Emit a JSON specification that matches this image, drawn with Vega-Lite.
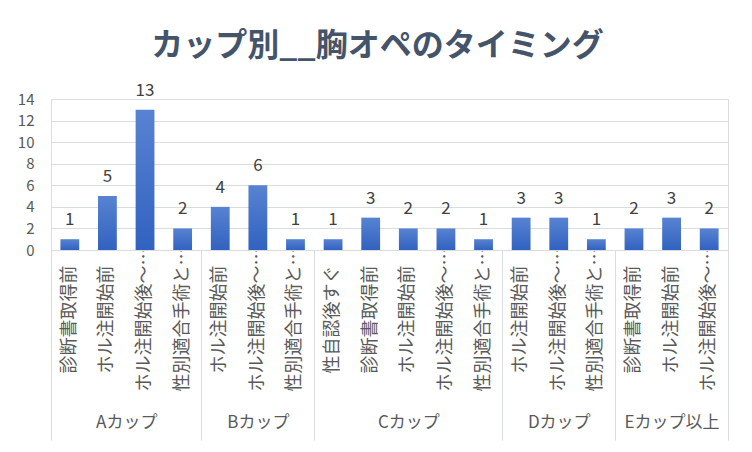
{
  "$schema": "https://vega.github.io/schema/vega-lite/v6.json",
  "width": 677,
  "height": 151,
  "autosize": {"type": "none"},
  "padding": {"left": 51, "top": 99, "right": 24, "bottom": 202},
  "background": "#ffffff",
  "title": {
    "text": "カップ別__胸オペのタイミング",
    "font": "Noto Sans CJK JP",
    "fontSize": 32,
    "fontWeight": "bold",
    "color": "#44546a",
    "anchor": "middle",
    "dx": -12,
    "offset": 19
  },
  "data": {
    "values": [
      {"bar": "Aカップ|診断書取得前", "cup": "Aカップ", "timing": "診断書取得前", "count": 1},
      {"bar": "Aカップ|ホル注開始前", "cup": "Aカップ", "timing": "ホル注開始前", "count": 5},
      {"bar": "Aカップ|ホル注開始後～…", "cup": "Aカップ", "timing": "ホル注開始後～…", "count": 13},
      {"bar": "Aカップ|性別適合手術と…", "cup": "Aカップ", "timing": "性別適合手術と…", "count": 2},
      {"bar": "Bカップ|ホル注開始前", "cup": "Bカップ", "timing": "ホル注開始前", "count": 4},
      {"bar": "Bカップ|ホル注開始後～…", "cup": "Bカップ", "timing": "ホル注開始後～…", "count": 6},
      {"bar": "Bカップ|性別適合手術と…", "cup": "Bカップ", "timing": "性別適合手術と…", "count": 1},
      {"bar": "Cカップ|性自認後すぐ", "cup": "Cカップ", "timing": "性自認後すぐ", "count": 1},
      {"bar": "Cカップ|診断書取得前", "cup": "Cカップ", "timing": "診断書取得前", "count": 3},
      {"bar": "Cカップ|ホル注開始前", "cup": "Cカップ", "timing": "ホル注開始前", "count": 2},
      {"bar": "Cカップ|ホル注開始後～…", "cup": "Cカップ", "timing": "ホル注開始後～…", "count": 2},
      {"bar": "Cカップ|性別適合手術と…", "cup": "Cカップ", "timing": "性別適合手術と…", "count": 1},
      {"bar": "Dカップ|ホル注開始前", "cup": "Dカップ", "timing": "ホル注開始前", "count": 3},
      {"bar": "Dカップ|ホル注開始後～…", "cup": "Dカップ", "timing": "ホル注開始後～…", "count": 3},
      {"bar": "Dカップ|性別適合手術と…", "cup": "Dカップ", "timing": "性別適合手術と…", "count": 1},
      {"bar": "Eカップ以上|診断書取得前", "cup": "Eカップ以上", "timing": "診断書取得前", "count": 2},
      {"bar": "Eカップ以上|ホル注開始前", "cup": "Eカップ以上", "timing": "ホル注開始前", "count": 3},
      {"bar": "Eカップ以上|ホル注開始後～…", "cup": "Eカップ以上", "timing": "ホル注開始後～…", "count": 2}
    ]
  },
  "encoding": {
    "y": {
      "field": "count",
      "type": "quantitative",
      "scale": {"domain": [0, 14], "nice": false},
      "axis": {
        "title": null,
        "values": [0, 2, 4, 6, 8, 10, 12, 14],
        "tickCount": 8,
        "domain": false,
        "ticks": false,
        "grid": true,
        "gridColor": "#d9dce1",
        "gridWidth": 1,
        "labelOverlap": false,
        "labelPadding": 17,
        "labelFont": "Noto Sans CJK JP",
        "labelFontSize": 15,
        "labelColor": "#595959"
      }
    }
  },
  "resolve": {"axis": {"x": "independent"}},
  "layer": [
    {
      "mark": {
        "type": "bar",
        "width": {"band": 0.5},
        "color": {
          "gradient": "linear",
          "x1": 0, "y1": 0, "x2": 0, "y2": 1,
          "stops": [
            {"offset": 0, "color": "#5883d2"},
            {"offset": 1, "color": "#3162c0"}
          ]
        }
      },
      "encoding": {
        "x": {
          "field": "bar",
          "type": "nominal",
          "sort": null,
          "scale": {"paddingInner": 0, "paddingOuter": 0},
          "axis": {
            "title": null,
            "orient": "bottom",
            "domain": true,
            "domainColor": "#d9dce1",
            "domainWidth": 1,
            "ticks": false,
            "labelExpr": "split(datum.value, '|')[1]",
            "labelAngle": -90,
            "labelAlign": "center",
            "labelBaseline": "middle",
            "labelPadding": 69,
            "labelFont": "Noto Sans CJK JP",
            "labelFontSize": 18,
            "labelColor": "#595959",
            "labelOverlap": false,
            "labelLimit": 0
          }
        }
      }
    },
    {
      "mark": {
        "type": "text",
        "baseline": "bottom",
        "dy": -10,
        "font": "Noto Sans CJK JP",
        "fontSize": 17,
        "color": "#404040"
      },
      "encoding": {
        "x": {
          "field": "bar",
          "type": "nominal",
          "sort": null,
          "axis": {
            "title": null,
            "orient": "bottom",
            "domain": false,
            "grid": false,
            "ticks": true,
            "tickBand": "extent",
            "tickSize": 190,
            "tickColor": "#d9dce1",
            "tickWidth": 1,
            "tickOpacity": {
              "condition": {
                "test": "datum.extra || indexof(['Aカップ|性別適合手術と…','Bカップ|性別適合手術と…','Cカップ|性別適合手術と…','Dカップ|性別適合手術と…','Eカップ以上|ホル注開始後～…'], datum.value) >= 0",
                "value": 1
              },
              "value": 0
            },
            "labelExpr": "indexof(['Aカップ|ホル注開始前','Bカップ|ホル注開始後～…','Cカップ|ホル注開始前','Dカップ|ホル注開始後～…','Eカップ以上|ホル注開始前'], datum.value) >= 0 ? split(datum.value, '|')[0] : ''",
            "labelAngle": 0,
            "labelAlign": "center",
            "labelBaseline": "middle",
            "labelPadding": -18,
            "labelOffset": {
              "condition": {"test": "datum.value === 'Aカップ|ホル注開始前'", "value": 18.8},
              "value": 0
            },
            "labelFont": "Noto Sans CJK JP",
            "labelFontSize": 17,
            "labelColor": "#595959",
            "labelOverlap": false
          }
        },
        "text": {"field": "count", "type": "quantitative"}
      }
    }
  ]
}
